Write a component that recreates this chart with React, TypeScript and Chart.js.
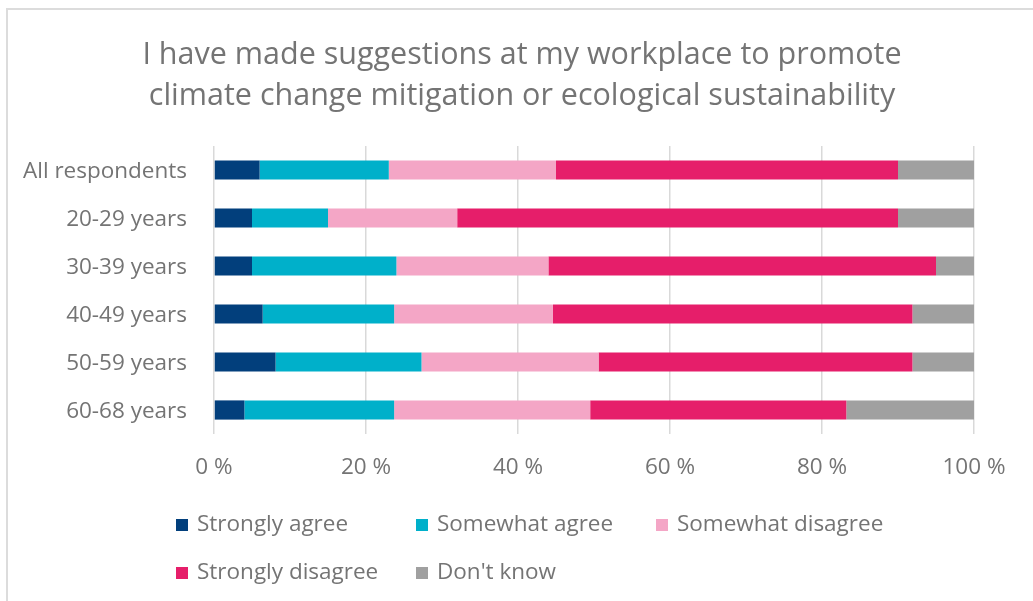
import React, { useEffect, useRef } from "react";
import { Chart, registerables } from "chart.js";

Chart.register(...registerables);

const categories = ["All respondents", "20-29 years", "30-39 years", "40-49 years", "50-59 years", "60-68 years"];
const stronglyAgree = [6, 5, 5, 6.4, 8.1, 4];
const somewhatAgree = [17, 10, 19, 17.3, 19.2, 19.7];
const somewhatDisagree = [22, 17, 20, 20.9, 23.3, 25.8];
const stronglyDisagree = [45, 58, 51, 47.3, 41.3, 33.7];
const dontKnow = [10, 10, 5, 8.1, 8.1, 16.8];
const xTicks = [0, 20, 40, 60, 80, 100];

const seriesNames = ["Strongly agree", "Somewhat agree", "Somewhat disagree", "Strongly disagree", "Don't know"];
const seriesColors = ["#023f7c", "#00b0ca", "#f4a6c6", "#e61e6a", "#a0a0a0"];

const FONT = "'Open Sans', 'Noto Sans', sans-serif";
const TEXT = "#747474";

const legendPlugin = {
  id: "gridLegend",
  afterDraw(chart: any) {
    const ctx = chart.ctx;
    const ds = chart.data.datasets;
    const cols = 3;
    const box = 12;
    const textGap = 9;
    const colWidth = 240;
    const startX = 176;
    const rowY = [525, 573];
    ctx.save();
    ctx.font = `22.5px ${FONT}`;
    ds.forEach((d: any, i: number) => {
      const c = i % cols;
      const r = Math.floor(i / cols);
      const x = startX + c * colWidth;
      const y = rowY[r];
      ctx.fillStyle = d.backgroundColor;
      ctx.fillRect(x, y - box / 2, box, box);
      ctx.fillStyle = TEXT;
      ctx.textBaseline = "middle";
      ctx.textAlign = "left";
      ctx.fillText(d.label, x + box + textGap, y);
    });
    ctx.restore();
  },
};

// let the y-axis labels extend to the left of the layout padding without clipping
const labelAreaPlugin = {
  id: "labelArea",
  afterLayout(chart: any) {
    const y = chart.scales.y;
    if (y) y.left = 0;
  },
};

export default function App() {
  const ref = useRef<HTMLCanvasElement | null>(null);
  useEffect(() => {
    if (!ref.current) return;
    const values = [stronglyAgree, somewhatAgree, somewhatDisagree, stronglyDisagree, dontKnow];
    const chart = new Chart(ref.current, {
      type: "bar",
      data: {
        labels: categories,
        datasets: seriesNames.map((name, i) => ({
          label: name,
          data: values[i],
          backgroundColor: seriesColors[i],
          borderWidth: 0,
          barPercentage: 0.4,
          categoryPercentage: 1,
        })),
      },
      options: {
        indexAxis: "y",
        animation: false,
        responsive: false,
        devicePixelRatio: 1,
        layout: { padding: { left: 70, right: 59, top: 0, bottom: 107 } },
        plugins: {
          legend: { display: false },
          tooltip: { enabled: false },
          title: {
            display: true,
            text: [
              "I have made suggestions at my workplace to promote",
              "climate change mitigation or ecological sustainability",
            ],
            color: TEXT,
            font: { family: FONT, size: 30.5, weight: "normal", lineHeight: "41px" },
            padding: { top: 35, bottom: 29 },
          },
        },
        scales: {
          x: {
            stacked: true,
            min: 0,
            max: 100,
            afterBuildTicks(scale: any) {
              scale.ticks = xTicks.map((v) => ({ value: v }));
            },
            afterFit(scale: any) {
              scale.height = 60;
            },
            ticks: {
              callback: (v: any) => `${v} %`,
              color: TEXT,
              font: { family: FONT, size: 22.5 },
              padding: 20,
              maxRotation: 0,
            },
            grid: { color: "#d9d9d9", lineWidth: 1.5, drawTicks: false },
            border: { display: false },
          },
          y: {
            stacked: true,
            afterFit(scale: any) {
              scale.width = 144;
            },
            ticks: {
              color: TEXT,
              font: { family: FONT, size: 22.5 },
              padding: 27,
              labelOffset: 2,
            },
            grid: { display: false, drawTicks: false },
            border: { display: false },
          },
        },
      },
      plugins: [labelAreaPlugin, legendPlugin],
    });
    return () => chart.destroy();
  }, []);

  return (
    <div style={{ position: "fixed", inset: 0, overflow: "hidden", background: "#fff" }}>
      <div
        style={{
          position: "absolute",
          left: 6,
          top: 8,
          width: 1100,
          height: 700,
          borderTop: "2px solid #dcdcdc",
          borderLeft: "2px solid #dcdcdc",
        }}
      />
      <canvas ref={ref} width={1033} height={601} style={{ position: "absolute", left: 0, top: 0, width: 1033, height: 601 }} />
    </div>
  );
}
